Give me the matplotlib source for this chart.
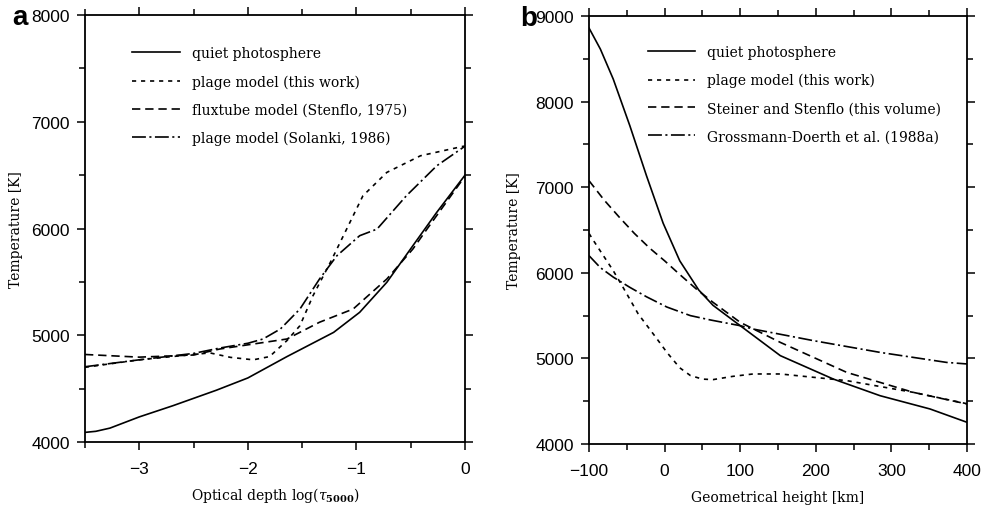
import matplotlib
matplotlib.use("Agg")
import matplotlib.pyplot as plt
from matplotlib.ticker import MultipleLocator

plt.rcParams['lines.scale_dashes'] = False
plt.rcParams['mathtext.fontset'] = 'dejavuserif'

# ---- panel a: temperature vs optical depth log(tau_5000)
a_quiet_x = [-3.5, -3.4, -3.27, -3.0, -2.69, -2.29, -2.0, -1.64, -1.21, -0.97, -0.72, -0.48, -0.26, 0.0]
a_quiet_t = [4090, 4100, 4130, 4235, 4340, 4485, 4600, 4800, 5027, 5215, 5496, 5839, 6152, 6500]

a_plage_x = [-3.5, -3.0, -2.5, -2.35, -2.16, -1.95, -1.80, -1.64, -1.52, -1.40, -1.24, -1.09, -0.94, -0.72, -0.41, -0.02, 0.0]
a_plage_t = [4700, 4770, 4820, 4835, 4793, 4770, 4800, 4950, 5090, 5370, 5683, 5995, 6307, 6526, 6682, 6770, 6772]

a_flux_x = [-3.5, -3.0, -2.5, -2.26, -1.95, -1.64, -1.34, -1.03, -0.72, -0.48, -0.35, 0.0]
a_flux_t = [4820, 4795, 4815, 4871, 4918, 4965, 5122, 5246, 5527, 5808, 5995, 6490]

a_sol_x = [-3.5, -3.0, -2.5, -2.26, -2.0, -1.86, -1.70, -1.52, -1.34, -1.18, -0.97, -0.81, -0.54, -0.26, 0.0]
a_sol_t = [4705, 4770, 4830, 4880, 4925, 4965, 5059, 5246, 5527, 5745, 5933, 5995, 6307, 6588, 6772]

# ---- panel b: temperature vs geometrical height
b_quiet_x = [-100, -85, -68, -46, -24, -2, 20, 45, 64, 100, 153, 223, 285, 351, 400]
b_quiet_t = [8860, 8614, 8264, 7718, 7134, 6580, 6140, 5800, 5620, 5382, 5032, 4759, 4564, 4409, 4253]

b_plage_x = [-100, -94, -68, -55, -35, -12, 3, 20, 34, 50, 64, 90, 117, 153, 197, 241, 329, 400]
b_plage_t = [6460, 6375, 6025, 5830, 5520, 5250, 5070, 4890, 4800, 4758, 4752, 4790, 4818, 4818, 4779, 4740, 4603, 4470]

b_steiner_x = [-100, -80, -60, -40, -20, 0, 20, 42, 64, 100, 153, 241, 329, 400]
b_steiner_t = [7076, 6850, 6650, 6460, 6290, 6140, 5980, 5810, 5655, 5421, 5187, 4836, 4603, 4467]

b_gd_x = [-100, -85, -68, -46, -24, 3, 34, 60, 100, 117, 197, 285, 373, 400]
b_gd_t = [6200, 6060, 5950, 5830, 5720, 5600, 5500, 5450, 5382, 5343, 5207, 5070, 4953, 4935]

labels_a = ['quiet photosphere', 'plage model (this work)',
            'fluxtube model (Stenflo, 1975)', 'plage model (Solanki, 1986)']
labels_b = ['quiet photosphere', 'plage model (this work)',
            'Steiner and Stenflo (this volume)', 'Grossmann-Doerth et al. (1988a)']

serif = 'DejaVu Serif'
sans = 'Liberation Sans'

styles = [dict(linestyle='-'),
          dict(dashes=(3.0, 3.5)),
          dict(dashes=(6, 3.5)),
          dict(dashes=(10, 2.5, 1.5, 2.5))]


def style_axes(ax, xmaj, xmin, ymaj, ymin):
    ax.xaxis.set_major_locator(MultipleLocator(xmaj))
    ax.xaxis.set_minor_locator(MultipleLocator(xmin))
    ax.yaxis.set_major_locator(MultipleLocator(ymaj))
    ax.yaxis.set_minor_locator(MultipleLocator(ymin))
    ax.tick_params(which='both', direction='out', top=True, right=True,
                   width=1.1, labelsize=12.5)
    ax.tick_params(which='major', length=6)
    ax.tick_params(which='minor', length=4)
    ax.tick_params(axis='x', pad=8)
    ax.tick_params(axis='y', pad=5)
    ax.tick_params(labeltop=False, labelright=False)
    for lab in ax.get_xticklabels() + ax.get_yticklabels():
        lab.set_family(sans)
    for s in ax.spines.values():
        s.set_linewidth(1.3)


fig = plt.figure(figsize=(9.87, 5.10), dpi=100)
ax1 = fig.add_axes([0.0861, 0.1314, 0.385, 0.837])
ax2 = fig.add_axes([0.5968, 0.1275, 0.383, 0.839])

series_a = [(a_quiet_x, a_quiet_t), (a_plage_x, a_plage_t), (a_flux_x, a_flux_t), (a_sol_x, a_sol_t)]
series_b = [(b_quiet_x, b_quiet_t), (b_plage_x, b_plage_t), (b_steiner_x, b_steiner_t), (b_gd_x, b_gd_t)]

for (x, t), lab, st in zip(series_a, labels_a, styles):
    ax1.plot(x, t, color='black', lw=1.2, label=lab, **st)
for (x, t), lab, st in zip(series_b, labels_b, styles):
    ax2.plot(x, t, color='black', lw=1.2, label=lab, **st)

ax1.set_xlim(-3.5, 0)
ax1.set_ylim(4000, 8000)
ax2.set_xlim(-100, 400)
ax2.set_ylim(4000, 9000)
style_axes(ax1, 1, 0.5, 1000, 500)
style_axes(ax2, 100, 50, 1000, 500)

ax1.set_xlabel(r'Optical depth log($\tau_{\mathbf{5000}}$)', family=serif, fontsize=10, labelpad=6)
ax1.set_ylabel('Temperature [K]', family=serif, fontsize=10, labelpad=6)
ax2.set_xlabel('Geometrical height [km]', family=serif, fontsize=10, labelpad=8)
ax2.set_ylabel('Temperature [K]', family=serif, fontsize=10, labelpad=10)

for ax, anchor in ((ax1, (0.11, 0.94)), (ax2, (0.14, 0.945))):
    ax.legend(loc='upper left', bbox_to_anchor=anchor, frameon=False,
              handlelength=3.4, handletextpad=0.9, labelspacing=1.0,
              borderaxespad=0, prop={'family': serif, 'size': 10})

fig.text(0.012, 0.965, 'a', family=sans, fontweight='bold', fontsize=20, va='center')
fig.text(0.527, 0.963, 'b', family=sans, fontweight='bold', fontsize=20, va='center')

fig.savefig('out.png', dpi=100)
